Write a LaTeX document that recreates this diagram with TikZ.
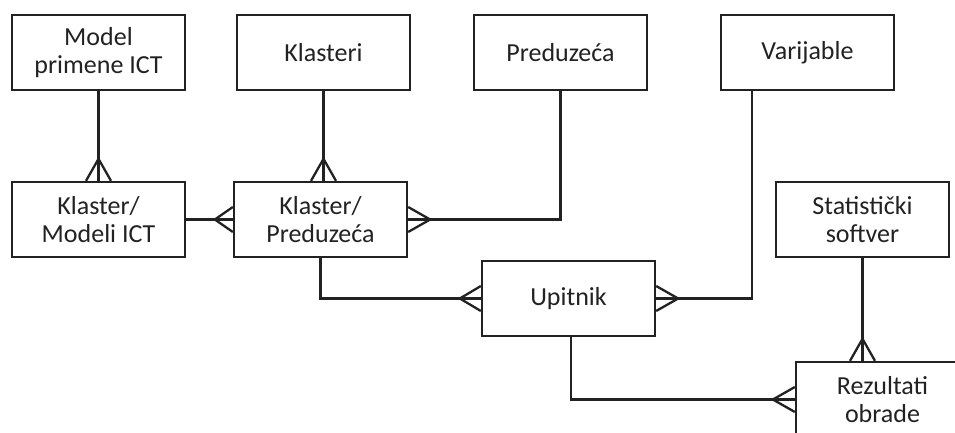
\documentclass[tikz,border=0pt]{standalone}
\usepackage{fontspec}
\setmainfont{Carlito}
\usetikzlibrary{calc}
\definecolor{ink}{HTML}{222222}
\newcommand\crowv[2]{\draw[conn] ([xshift=-12.5pt]#1) -- ([yshift=#2]#1) -- ([xshift=12.5pt]#1);}
\newcommand\crowh[2]{\draw[conn] ([yshift=-12.5pt]#1) -- ([xshift=#2]#1) -- ([yshift=12.5pt]#1);}
\begin{document}
\begin{tikzpicture}[x=1pt,y=-1pt,
  ent/.style={draw=ink, line width=2.3pt, fill=white, minimum width=173pt, minimum height=75pt,
    inner sep=0pt, align=center, text=ink, font=\fontsize{26}{27.5}\selectfont},
  conn/.style={draw=ink, line width=2.3pt}]
\useasboundingbox (0,0) rectangle (955,433);
\clip (0,0) rectangle (955,433);
\fill[white] (0,0) rectangle (955,433);
% entities
\node[ent] (m)  at (98.5,52.5)  {Model\\primene ICT};
\node[ent] (kl) at (323.5,52.5) {Klasteri};
\node[ent] (pr) at (560.5,52.5) {Preduzeća};
\node[ent] (va) at (807.5,52.5) {Varijable};
\node[ent] (km) at (98.5,219.5) {Klaster/\\Modeli ICT};
\node[ent] (kp) at (320.5,219.5) {Klaster/\\Preduzeća};
\node[ent] (st) at (862.5,219.5) {Statistički\\softver};
\node[ent] (up) at (568.5,298.5) {Upitnik};
\node[ent] (re) at (882.5,399.5) {Rezultati\\obrade};
% helper coordinates
\coordinate (vx) at ([xshift=32pt]va.south west);
\coordinate (ux) at ([xshift=2.5pt]up.south);
% connectors
\draw[conn] (m.south) -- (km.north);
\crowv{km.north}{22pt}
\draw[conn] (kl.south) -- (kl.south |- kp.north);
\crowv{kl.south |- kp.north}{22pt}
\draw[conn] (km.east) -- (kp.west);
\crowh{kp.west}{-18pt}
\draw[conn] (kp.east) -| (pr.south);
\crowh{kp.east}{22pt}
\draw[conn] (kp.south) |- (up.west);
\crowh{up.west}{-21pt}
\draw[conn] (up.east) -| (vx);
\crowh{up.east}{22pt}
\draw[conn] (ux) |- (re.west);
\crowh{re.west}{-22pt}
\draw[conn] (st.south) -- (st.south |- re.north);
\crowv{st.south |- re.north}{22pt}
\end{tikzpicture}
\end{document}
